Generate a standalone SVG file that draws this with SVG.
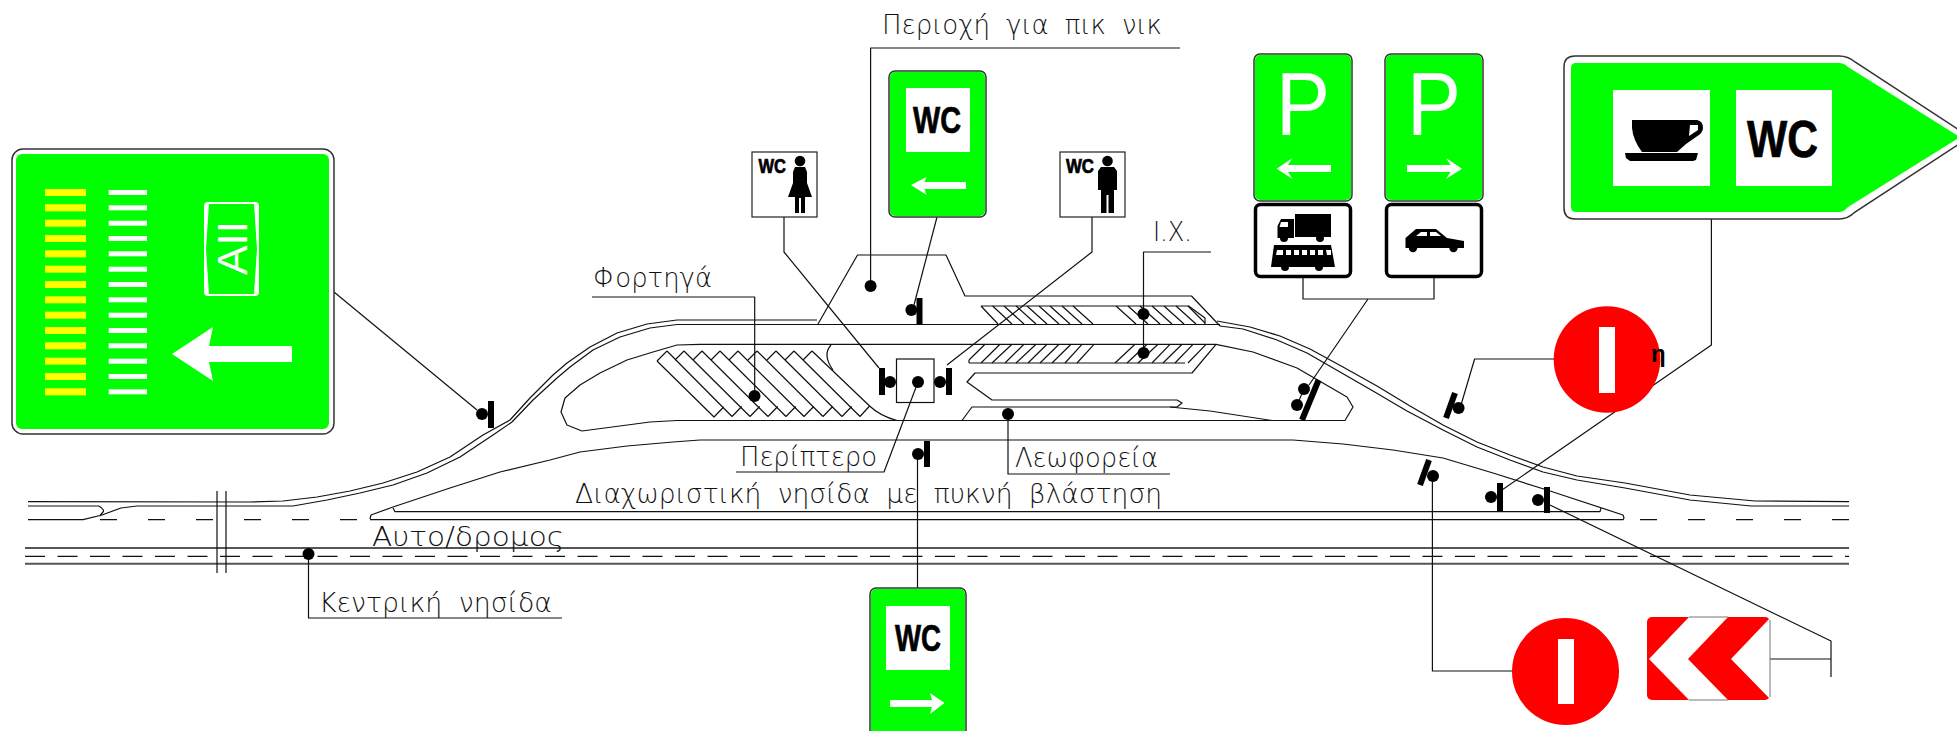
<svg xmlns="http://www.w3.org/2000/svg" width="1957" height="731" viewBox="0 0 1957 731">
<style>
.l{fill:none;stroke:#111;stroke-width:1.2;stroke-linejoin:round}
.g2{fill:none;stroke:#555;stroke-width:2}
.p{fill:none;stroke:#000;stroke-width:6}
.d{fill:#000}
.sg{fill:#fff;stroke:#333;stroke-width:1.5}
.gr{fill:#0f0}
.w{fill:#fff}
.y{fill:#ff0}
.r{fill:#f00}
.k{fill:#000}
.t{font-family:"DejaVu Sans","Liberation Sans",sans-serif;font-weight:200;font-size:27px;fill:#111;word-spacing:8px}
.wc{font-family:"Liberation Sans",Arial,sans-serif;font-weight:700;fill:#000;stroke:#000;stroke-width:.7}
.pk{font-family:"Liberation Sans",Arial,sans-serif;font-size:89px;fill:#fff}
</style>
<defs>
<circle id="dot" r="6" class="d"/>
</defs>
<rect width="1957" height="731" fill="#fff"/>

<g id="roads">
<polyline class="l" points="28,501.7 250,502 283,501 317,497 350,491 383,483 417,472 450,457 483,435 510,420 530,398 553,375 567,363 590,347 617,333 647,324 677,320 817,320"/>
<polyline class="l" points="28,506 99,506"/>
<polyline class="l" points="137,506 293,506 327,500 360,493 393,485 427,473 460,457 493,435 512,422 533,400 557,378 570,367 593,350 620,337 650,328 677,324.5 1220,324.5"/>
<polyline class="l" points="1217,321 1250,327 1280,336 1310,349 1343,367 1377,386 1410,406 1443,425 1477,442 1510,455 1543,467 1577,476 1625,483 1690,495 1755,501 1849,501.7"/>
<polyline class="l" points="1220,326 1243,329 1277,340 1307,353 1340,372 1373,391 1407,411 1443,430 1477,447 1510,460 1543,472 1577,480 1625,488 1690,500 1751,506 1849,506"/>
<polyline class="l" points="818,324 857.5,255 946,255 965,296 1191.5,296 1220,326"/>
<polyline class="l" points="677,420.5 650,422 582,431 567,425 561,412 565,398 580,385 600,373 627,360 653,352 677,345 700,344.3 1216,344.3 1253,352 1297,368 1347,397 1353,407 1345,420.5 677,420.5"/>
<polyline class="l" points="1216,344.3 1192,373 975,373 967,382 992,400 1177,400 1182,403 1177,407 972,407 962,420.5"/>
<polyline class="l" points="1170,407 1210,411 1272,420.5"/>
<polyline class="l" points="370,519 371,515 393,507 450,488 500,472 550,460 580,452 627,446 673,442 700,440 1293,440 1343,444 1393,450 1443,458 1493,473 1547,490 1623,515 1624,518 1623,520"/>
<polyline class="l" points="393,508 395,511.7 1600,511.7 1601,508"/>
<polyline class="l" points="370,519.7 1623,519.7"/>
<path class="l" d="M28 519.7H83L102 515 121 508 137 506M99 506Q105 510 103 512T100 516"/>
<path class="l" stroke-dasharray="17 31" d="M100 519.7H370M1640 519.7H1849"/>
<path class="g2" d="M25 548H1849M25 563.7H1849"/>
<path class="l" stroke-dasharray="20 12.5" d="M25 556.3H1849"/>
<path class="l" d="M217 491V573M226 491V573"/>
<path class="l" d="M657 361 667 351M657 361 714 417 723.7 407"/>
<path class="l" d="M667 351 732 416.5M684 351 750 416.5M702 351 768 416.5M720 351 786 416.5M738 351 804 416.5M757 351 823 416.5M776 351 842 416.5M794 351 860 416.5M812 351 869.6 406Q880 416 897 420.5"/>
<path class="l" d="M684 351 675 360M702 351 693 360M720 351 711 360M738 351 729 360M757 351 748 360M776 351 767 360M794 351 785 360M812 351 803 360"/>
<path class="l" d="M732 416.5 741.7 406.5M750 416.5 759.7 406.5M768 416.5 777.7 406.5M786 416.5 795.7 406.5M804 416.5 813.7 406.5M823 416.5 832.7 406.5M842 416.5 851.7 406.5M860 416.5 869.6 406"/>
<path class="l" d="M831 345Q822 355 833 370"/>
<path class="l" d="M981 306H1188.6L1205 318V325M981 306 998 324"/>
<path class="l" d="M992.6 306 1012 324M1004 306 1024 324M1016 306 1036 324M1027 306 1047 324M1039 306 1059 324M1050 306 1070 324M1062 306 1082 324M1073 306 1093 324M1116 306 1136 324M1128 306 1148 324M1140 306 1160 324M1152 306 1172 324M1164 306 1184 324M1176 306 1196 324M1188 306 1205 323"/>
<path class="l" d="M969 363H1185M969 360 985 344.3M969 360V363"/>
<path class="l" d="M981 363 1000 344.3M992 363 1012 344.3M1005 363 1024 344.3M1016 363 1036 344.3M1028 363 1047 344.3M1040 363 1059 344.3M1052 363 1071 344.3M1065 363 1082 344.3M1077 363 1094 344.3M1115 363 1135 344.3M1127 363 1147 344.3M1138 363 1158 344.3M1152 363 1170 344.3M1163 363 1182 344.3M1175 363 1193 344.3M1188 363 1206 344.3"/>
</g>

<g id="kiosk">
<rect fill="#fff" stroke="#111" stroke-width="1.2" x="896.5" y="359" width="37.5" height="43.5"/>
</g>

<g id="connectors">
<path class="l" d="M334 292 477 410"/>
<path class="l" d="M870.6 286V48H1180"/>
<path class="l" d="M937 217 914 305"/>
<path class="l" d="M784 217V252L879 368"/>
<path class="l" d="M1092 217V252L947 365"/>
<path class="l" d="M754.7 396V297H592"/>
<path class="l" d="M1211 252H1143.5V353"/>
<path class="l" d="M918 382 884 472H736"/>
<path class="l" d="M1008 414V474H1170"/>
<path class="l" d="M917.5 454V588"/>
<path class="l" d="M308.5 554V618H562"/>
<path class="l" d="M1303 278V299H1434V278M1368 299 1309 385M1304 389 1297 405"/>
<path class="l" d="M1711.4 219V345L1502 490"/>
<path class="l" d="M1554 359H1474.6L1461 405"/>
<path class="l" d="M1550 505 1831 641V677M1770 659H1831"/>
<path class="l" d="M1432.4 476V671H1512"/>
</g>

<g id="posts">
<line class="p" x1="491" y1="401" x2="491" y2="428"/>
<use href="#dot" x="482" y="414"/>
<use href="#dot" x="870.6" y="286"/>
<line class="p" x1="919.5" y1="298" x2="919.5" y2="324"/>
<use href="#dot" x="911.4" y="310"/>
<line class="p" x1="882" y1="368" x2="882" y2="395"/>
<use href="#dot" x="890" y="382"/>
<line class="p" x1="949" y1="368" x2="949" y2="395"/>
<use href="#dot" x="940" y="382"/>
<use href="#dot" x="918" y="382"/>
<use href="#dot" x="754.5" y="396"/>
<use href="#dot" x="1143.5" y="314"/>
<use href="#dot" x="1143.5" y="353"/>
<use href="#dot" x="1008" y="414"/>
<line class="p" x1="927" y1="441" x2="927" y2="467"/>
<use href="#dot" x="918" y="454"/>
<use href="#dot" x="308.5" y="554"/>
<line class="p" x1="1318.6" y1="380" x2="1302" y2="420"/>
<use href="#dot" x="1304" y="389"/>
<use href="#dot" x="1297" y="405"/>
<line class="p" x1="1455" y1="393" x2="1446" y2="418"/>
<use href="#dot" x="1458.6" y="408"/>
<line class="p" x1="1429" y1="460" x2="1420" y2="485"/>
<use href="#dot" x="1433" y="476"/>
<line class="p" x1="1500" y1="483" x2="1500" y2="511"/>
<use href="#dot" x="1491" y="497"/>
<line class="p" x1="1547" y1="487" x2="1547" y2="513"/>
<use href="#dot" x="1538" y="500"/>
</g>

<g id="sign-a11">
<rect class="sg" x="12" y="149" width="322" height="285" rx="11"/>
<rect class="gr" x="16" y="154" width="313" height="275" rx="6"/>
<g class="y"><rect x="45" y="189" width="41" height="7"/><rect x="45" y="204.3" width="41" height="7"/><rect x="45" y="219.7" width="41" height="7"/><rect x="45" y="235" width="41" height="7"/><rect x="45" y="250.3" width="41" height="7"/><rect x="45" y="265.7" width="41" height="7"/><rect x="45" y="281" width="41" height="7"/><rect x="45" y="296.3" width="41" height="7"/><rect x="45" y="311.7" width="41" height="7"/><rect x="45" y="327" width="41" height="7"/><rect x="45" y="342.3" width="41" height="7"/><rect x="45" y="357.7" width="41" height="7"/><rect x="45" y="373" width="41" height="7"/><rect x="45" y="388.3" width="41" height="7"/></g>
<g class="w"><rect x="108.7" y="190" width="38.3" height="5"/><rect x="108.7" y="205.3" width="38.3" height="5"/><rect x="108.7" y="220.7" width="38.3" height="5"/><rect x="108.7" y="236" width="38.3" height="5"/><rect x="108.7" y="251.3" width="38.3" height="5"/><rect x="108.7" y="266.7" width="38.3" height="5"/><rect x="108.7" y="282" width="38.3" height="5"/><rect x="108.7" y="297.3" width="38.3" height="5"/><rect x="108.7" y="312.7" width="38.3" height="5"/><rect x="108.7" y="328" width="38.3" height="5"/><rect x="108.7" y="343.3" width="38.3" height="5"/><rect x="108.7" y="358.7" width="38.3" height="5"/><rect x="108.7" y="374" width="38.3" height="5"/><rect x="108.7" y="389.3" width="38.3" height="5"/></g>
<rect class="w" x="204" y="202" width="55" height="94" rx="4"/>
<path class="gr" d="M209 204H254L257 249 254 294H209L206 249Z"/>
<text transform="translate(247,275) rotate(-90)" font-family="Liberation Sans,Arial,sans-serif" font-size="43" fill="#fff" textLength="54" lengthAdjust="spacingAndGlyphs">AII</text>
<path class="w" d="M172 354 213 327 209 346H292V362H209L213 381Z"/>
</g>

<g id="sign-wc-left">
<rect class="sg" x="889" y="71" width="97" height="146" rx="6"/>
<rect class="gr" x="890" y="72" width="95" height="144" rx="5"/>
<rect class="w" x="906" y="88" width="64" height="64"/>
<text class="wc" x="913" y="133" font-size="36" textLength="48" lengthAdjust="spacingAndGlyphs">WC</text>
<path class="w" d="M911 185 926.6 177 924.5 182H966V189H924.5L926.6 195Z"/>
</g>

<g id="sign-wc-women">
<rect fill="#fff" stroke="#222" stroke-width="1.2" x="752" y="152" width="65" height="65"/>
<text class="wc" x="758.5" y="173" font-size="20" textLength="27.5" lengthAdjust="spacingAndGlyphs">WC</text>
<circle class="k" cx="800" cy="161" r="5.3"/>
<path class="k" d="M795 167H805L807 172V183L812 197H805V213H801V198H799V213H795V197H788L793 183V172Z"/>
</g>

<g id="sign-wc-men">
<rect fill="#fff" stroke="#222" stroke-width="1.2" x="1060" y="152" width="65" height="65"/>
<text class="wc" x="1066" y="173" font-size="20" textLength="28" lengthAdjust="spacingAndGlyphs">WC</text>
<circle class="k" cx="1107.5" cy="161" r="5.3"/>
<path class="k" d="M1101 167H1114L1117 171V190H1114V213H1108.5V195H1106.5V213H1101V190H1098V171Z"/>
</g>

<g id="sign-wc-right">
<rect class="sg" x="870" y="588" width="96" height="150" rx="6"/>
<rect class="gr" x="871" y="589" width="94" height="148" rx="5"/>
<rect class="w" x="886" y="606" width="64" height="64"/>
<text class="wc" x="895" y="651" font-size="36" textLength="46" lengthAdjust="spacingAndGlyphs">WC</text>
<path class="w" d="M890 700H932L930 693 944.5 703 930 714 932 707H890Z"/>
</g>

<g id="sign-parking-left">
<rect class="sg" x="1254" y="54" width="98" height="147" rx="6"/>
<rect class="gr" x="1255" y="55" width="96" height="145" rx="5"/>
<text class="pk" x="1276" y="135" textLength="54" lengthAdjust="spacingAndGlyphs">P</text>
<path class="w" d="M1276.6 168.7 1292.6 158 1288 165H1331V172H1288L1292.6 179Z"/>
</g>
<g id="plate-trucks">
<rect fill="#fff" stroke="#000" stroke-width="3.5" x="1255.5" y="204.5" width="95" height="72" rx="5"/>
<path class="k" d="M1295 214H1331V237H1295ZM1277.5 238V226L1281 219H1294V238Z"/>
<path class="w" d="M1281 222H1288V227H1279.5Z"/>
<circle class="k" cx="1284" cy="238" r="4"/><circle class="k" cx="1320" cy="238" r="4"/>
<path class="k" d="M1274 245H1331L1335 267H1271Z"/>
<path class="w" d="M1277 250H1283V255H1276ZM1286 250H1291V255H1286ZM1294 250H1299V255H1294ZM1302 250H1307V255H1302ZM1310 250H1315V255H1310ZM1318 250H1323V255H1318ZM1326 250H1331V255H1327Z"/>
<circle class="k" cx="1285" cy="267" r="4"/><circle class="k" cx="1319" cy="267" r="4"/>
</g>
<g id="sign-parking-right">
<rect class="sg" x="1385" y="54" width="98" height="147" rx="6"/>
<rect class="gr" x="1386" y="55" width="96" height="145" rx="5"/>
<text class="pk" x="1407" y="135" textLength="54" lengthAdjust="spacingAndGlyphs">P</text>
<path class="w" d="M1462 168.7 1446 158 1450.6 165H1407V172H1450.6L1446 179Z"/>
</g>
<g id="plate-car">
<rect fill="#fff" stroke="#000" stroke-width="3.5" x="1386.5" y="204.5" width="95" height="72" rx="5"/>
<path class="k" d="M1405.5 248V238L1416 229H1436L1447 238 1464 241V248Z"/>
<path class="w" d="M1416 236 1421 232H1427V236ZM1430 232H1436L1441 236H1430Z"/>
<circle class="k" cx="1413" cy="248" r="4.2"/><circle class="k" cx="1453.5" cy="248" r="4.2"/>
</g>

<g id="sign-services">
<path class="sg" d="M1575 56H1839Q1848 56 1855 62L1970 137 1855 212Q1848 219 1839 219H1575Q1564 219 1564 208V67Q1564 56 1575 56Z"/>
<path class="gr" d="M1576 63H1839Q1844 63 1848 67L1960 137 1848 207Q1844 212 1839 212H1576Q1571 212 1571 207V68Q1571 63 1576 63Z"/>
<rect class="w" x="1613" y="90" width="97" height="96"/>
<rect class="w" x="1736" y="90" width="96" height="96"/>
<path class="k" fill-rule="evenodd" d="M1632 120H1697Q1703 121 1703 128 1703 133 1696 137L1686 144 1677 152H1642Q1633 140 1632 128ZM1690 125H1698V130L1689 136Z"/>
<path class="k" d="M1625 153H1698L1696 160 1693 161H1630L1626 158Z"/>
<text class="wc" x="1747" y="157" font-size="52" textLength="71" lengthAdjust="spacingAndGlyphs">WC</text>
</g>

<g id="sign-no-entry-top">
<circle class="r" cx="1607" cy="359.5" r="53.3"/>
<rect class="w" x="1599" y="327" width="16" height="66"/>
<text x="1651" y="362" font-family="Liberation Sans,Arial,sans-serif" font-weight="700" font-size="24" fill="#000">η</text>
</g>

<g id="sign-no-entry-bottom">
<circle class="r" cx="1565.5" cy="671.5" r="53.5"/>
<rect class="w" x="1558" y="639" width="16" height="65"/>
</g>

<g id="sign-chevron">
<rect class="r" x="1647" y="617" width="123" height="83" rx="5"/>
<path class="w" d="M1689 617H1728L1688 659 1728 700H1689L1649 659ZM1770 618V699L1731 659Z"/>
<path fill="none" stroke="#777" d="M1689 617H1728M1689 700H1728M1770 620V697"/>
</g>

<g id="labels">
<text class="t" x="882" y="34" textLength="280" lengthAdjust="spacingAndGlyphs">Περιοχή για πικ νικ</text>
<text class="t" x="593" y="287" textLength="119" lengthAdjust="spacingAndGlyphs">Φορτηγά</text>
<text class="t" x="1153" y="241" textLength="39" lengthAdjust="spacingAndGlyphs">I.X.</text>
<text class="t" x="740" y="466" textLength="137" lengthAdjust="spacingAndGlyphs">Περίπτερο</text>
<text class="t" x="1015" y="467" textLength="143" lengthAdjust="spacingAndGlyphs">Λεωφορεία</text>
<text class="t" x="575" y="503" textLength="587" lengthAdjust="spacingAndGlyphs">Διαχωριστική νησίδα με πυκνή βλάστηση</text>
<text class="t" x="372" y="546" textLength="192" lengthAdjust="spacingAndGlyphs">Αυτο/δρομος</text>
<text class="t" x="319" y="612" textLength="233" lengthAdjust="spacingAndGlyphs">Κεντρική νησίδα</text>
</g>
</svg>
